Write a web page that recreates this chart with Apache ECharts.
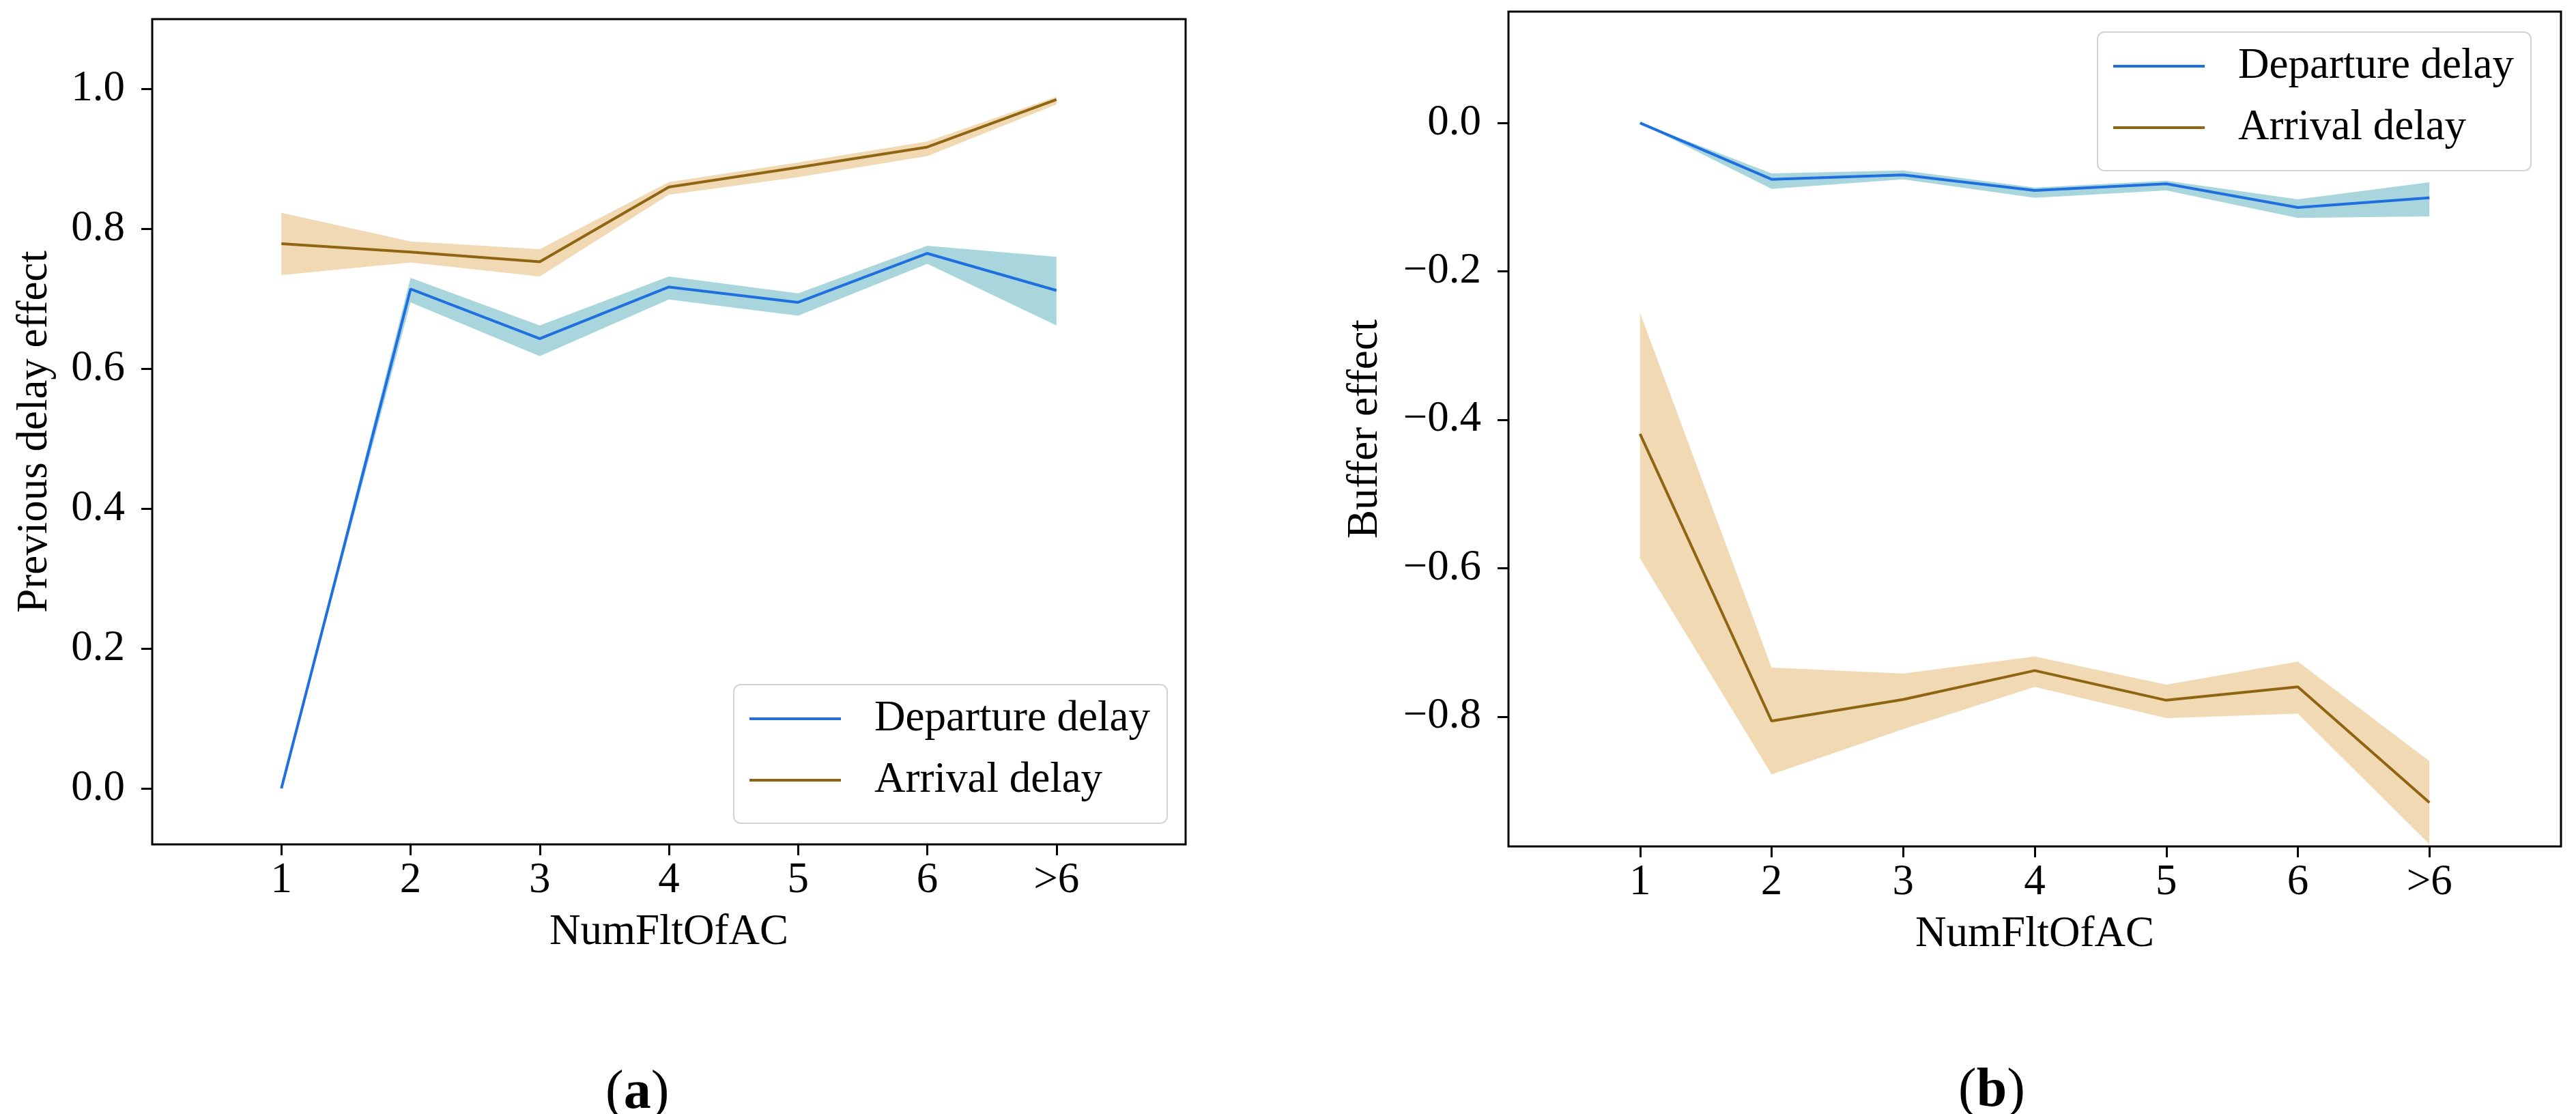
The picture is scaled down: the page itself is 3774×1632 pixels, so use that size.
<!DOCTYPE html>
<html>
<head>
<meta charset="utf-8">
<title>Previous delay effect / Buffer effect vs NumFltOfAC</title>
<script src="https://cdn.jsdelivr.net/npm/echarts@6/dist/echarts.min.js"></script>
<style>
  html, body { margin: 0; padding: 0; background: #fff; }
  #chart { width: 3774px; height: 1632px; }
</style>
</head>
<body>
<div id="chart"></div>
<script>
// categories on the x axis (drawn at positions 1..7)
var categories = ['1', '2', '3', '4', '5', '6', '>6'];

// (a) previous delay effect
var depA     = [0.000, 0.714, 0.643, 0.717, 0.695, 0.765, 0.712];
var depALow  = [0.000, 0.695, 0.618, 0.699, 0.676, 0.750, 0.662];
var depAHigh = [0.000, 0.730, 0.662, 0.732, 0.708, 0.776, 0.760];
var arrA     = [0.779, 0.767, 0.753, 0.860, 0.888, 0.917, 0.985];
var arrALow  = [0.734, 0.752, 0.732, 0.849, 0.874, 0.904, 0.978];
var arrAHigh = [0.823, 0.782, 0.771, 0.867, 0.895, 0.925, 0.989];

// (b) buffer effect
var depB     = [0.000, -0.076, -0.070, -0.091, -0.082, -0.114, -0.101];
var depBLow  = [0.000, -0.089, -0.076, -0.101, -0.091, -0.128, -0.126];
var depBHigh = [0.000, -0.068, -0.064, -0.087, -0.078, -0.103, -0.080];
var arrB     = [-0.419, -0.806, -0.777, -0.738, -0.778, -0.760, -0.916];
var arrBLow  = [-0.587, -0.878, -0.817, -0.760, -0.802, -0.796, -0.972];
var arrBHigh = [-0.256, -0.734, -0.742, -0.719, -0.757, -0.726, -0.860];

// tick labels
var xTicks = [1, 2, 3, 4, 5, 6, 7];
var yTicksA = [0, 0.2, 0.4, 0.6, 0.8, 1.0];
var yTicksB = [-0.8, -0.6, -0.4, -0.2, 0];

var BLUE = '#1f6fdf';
var BLUE_BAND = '#a9d6dd';
var BROWN = '#8f6514';
var BROWN_BAND = '#f1d9b4';
var FONT = 'Liberation Serif';
var FS = 63;

function pairs(vals) {
  return vals.map(function (v, i) { return [i + 1, v]; });
}

function bandRender(lows, highs, color) {
  return function (params, api) {
    var upper = highs.map(function (v, i) { return api.coord([i + 1, v]); });
    var lower = lows.map(function (v, i) { return api.coord([i + 1, v]); }).reverse();
    return {
      type: 'polygon',
      shape: { points: upper.concat(lower) },
      style: { fill: color },
      silent: true
    };
  };
}

function fmtY(v) {
  var s = Math.abs(v).toFixed(1);
  return v < -1e-9 ? '\u2212' + s : s;
}

function xAxis(idx) {
  return {
    gridIndex: idx,
    type: 'value',
    min: 0,
    max: 8,
    name: 'NumFltOfAC',
    nameLocation: 'middle',
    nameGap: 98,
    nameTextStyle: { fontFamily: FONT, fontSize: FS, color: '#000' },
    axisLine: { show: false, onZero: false },
    splitLine: { show: false },
    axisTick: { show: true, customValues: xTicks, length: 16, lineStyle: { color: '#000', width: 3 } },
    axisLabel: {
      customValues: xTicks,
      margin: 22,
      fontFamily: FONT, fontSize: FS, color: '#000',
      formatter: function (v) { return categories[Math.round(v) - 1] || ''; }
    }
  };
}

function yAxis(idx, min, max, ticks, name, gap) {
  return {
    gridIndex: idx,
    type: 'value',
    min: min,
    max: max,
    name: name,
    nameLocation: 'middle',
    nameGap: gap,
    nameTextStyle: { fontFamily: FONT, fontSize: FS, color: '#000' },
    axisLine: { show: false, onZero: false },
    splitLine: { show: false },
    axisTick: { show: true, customValues: ticks, length: 16, lineStyle: { color: '#000', width: 3 } },
    axisLabel: {
      customValues: ticks,
      margin: 40,
      fontFamily: FONT, fontSize: FS, color: '#000',
      formatter: fmtY
    }
  };
}

function lineSeries(name, idx, vals, color) {
  return {
    name: name,
    type: 'line',
    xAxisIndex: idx,
    yAxisIndex: idx,
    data: pairs(vals),
    showSymbol: false,
    symbol: 'none',
    lineStyle: { color: color, width: 4 },
    itemStyle: { color: color },
    z: 4,
    silent: true
  };
}

function bandSeries(idx, lows, highs, color) {
  return {
    type: 'custom',
    xAxisIndex: idx,
    yAxisIndex: idx,
    data: [[1, lows[0]]],
    clip: true,
    renderItem: bandRender(lows, highs, color),
    z: 2,
    silent: true
  };
}

function legend(left, top) {
  return {
    orient: 'vertical',
    left: left,
    top: top,
    padding: [14, 25, 27, 23],
    itemWidth: 134,
    itemHeight: 4,
    itemGap: 18,
    backgroundColor: '#fff',
    borderColor: '#d4d4d4',
    borderWidth: 2,
    borderRadius: 10,
    selectedMode: false,
    textStyle: {
      fontFamily: FONT, fontSize: FS, color: '#000',
      lineHeight: 72, padding: [0, 0, 0, 44]
    },
    data: [
      { name: 'Departure delay', icon: 'rect', itemStyle: { color: BLUE } },
      { name: 'Arrival delay', icon: 'rect', itemStyle: { color: BROWN } }
    ]
  };
}

var chart = echarts.init(document.getElementById('chart'), null, { renderer: 'canvas' });

var option = {
  backgroundColor: '#fff',
  animation: false,
  grid: [
    { left: 223, top: 28, width: 1514, height: 1209, show: true, borderColor: '#000', borderWidth: 3, backgroundColor: 'transparent' },
    { left: 2210, top: 17, width: 1542, height: 1223, show: true, borderColor: '#000', borderWidth: 3, backgroundColor: 'transparent' }
  ],
  xAxis: [xAxis(0), xAxis(1)],
  yAxis: [
    yAxis(0, -0.08, 1.1, yTicksA, 'Previous delay effect', 140),
    yAxis(1, -0.975, 0.15, yTicksB, 'Buffer effect', 178)
  ],
  legend: [legend(1075, 1003), legend(3073, 47)],
  series: [
    bandSeries(0, depALow, depAHigh, BLUE_BAND),
    bandSeries(0, arrALow, arrAHigh, BROWN_BAND),
    lineSeries('Departure delay', 0, depA, BLUE),
    lineSeries('Arrival delay', 0, arrA, BROWN),
    bandSeries(1, depBLow, depBHigh, BLUE_BAND),
    bandSeries(1, arrBLow, arrBHigh, BROWN_BAND),
    lineSeries('Departure delay', 1, depB, BLUE),
    lineSeries('Arrival delay', 1, arrB, BROWN)
  ],
  graphic: [
    {
      type: 'text', left: 887, top: 1562,
      style: {
        text: '{p|(}{b|a}{p|)}',
        rich: {
          p: { fontFamily: FONT, fontSize: 80, fill: '#000' },
          b: { fontFamily: FONT, fontSize: 80, fontWeight: 'bold', fill: '#000' }
        },
        align: 'center', verticalAlign: 'middle'
      }
    },
    {
      type: 'text', left: 2869, top: 1559,
      style: {
        text: '{p|(}{b|b}{p|)}',
        rich: {
          p: { fontFamily: FONT, fontSize: 80, fill: '#000' },
          b: { fontFamily: FONT, fontSize: 80, fontWeight: 'bold', fill: '#000' }
        },
        align: 'center', verticalAlign: 'middle'
      }
    }
  ]
};

chart.setOption(option);
</script>
</body>
</html>
